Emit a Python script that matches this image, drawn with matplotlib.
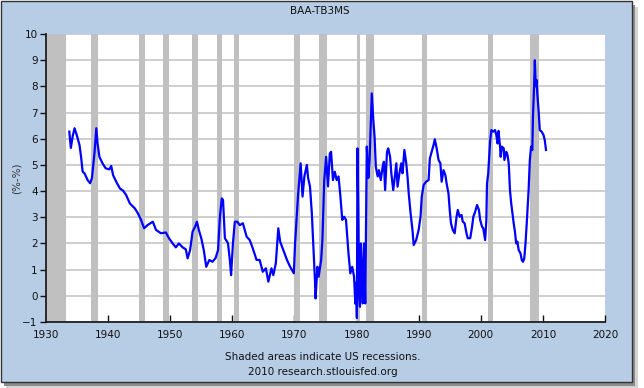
import matplotlib
matplotlib.use('Agg')
import matplotlib.pyplot as plt
from matplotlib.patches import Rectangle

# BAA minus TB3MS spread (percent points)
years = [
    1933.75, 1934.0, 1934.3, 1934.6, 1935.0, 1935.4, 1935.65, 1935.9, 1936.2, 1936.7,
    1937.1, 1937.4, 1937.8, 1938.1, 1938.3, 1938.6, 1939.1, 1939.6, 1940.2, 1940.5,
    1940.8, 1941.3, 1941.9, 1942.4, 1942.9, 1943.5, 1944.3, 1944.8, 1945.3, 1945.8,
    1946.4, 1947.2, 1947.7, 1948.5, 1949.3, 1949.8, 1950.4, 1950.9, 1951.4, 1952.0,
    1952.5, 1952.8, 1953.2, 1953.6, 1954.0, 1954.3, 1954.6, 1955.0, 1955.4, 1955.8,
    1956.3, 1956.8, 1957.3, 1957.7, 1958.0, 1958.3, 1958.5, 1958.8, 1959.3, 1959.6,
    1959.8, 1960.1, 1960.4, 1960.8, 1961.2, 1961.7, 1962.3, 1962.8, 1963.3, 1963.9,
    1964.4, 1964.9, 1965.4, 1965.8, 1966.3, 1966.6, 1967.0, 1967.4, 1967.7, 1968.0,
    1968.4, 1968.8, 1969.3, 1969.9, 1970.1, 1970.4, 1970.6, 1971.0, 1971.3, 1971.6,
    1972.0, 1972.2, 1972.5, 1972.8, 1973.0, 1973.3, 1973.4, 1973.7, 1973.9, 1974.3,
    1974.5, 1974.8, 1975.1, 1975.4, 1975.7, 1975.9, 1976.2, 1976.5, 1976.8, 1977.1,
    1977.4, 1977.7, 1978.0, 1978.3, 1978.7, 1979.0, 1979.3, 1979.6, 1979.8, 1979.95,
    1980.05, 1980.15, 1980.3, 1980.4, 1980.55, 1980.7, 1980.9, 1981.0, 1981.2, 1981.4,
    1981.65, 1981.9, 1982.1, 1982.45, 1982.7, 1982.9, 1983.1, 1983.4, 1983.6, 1983.9,
    1984.2, 1984.4, 1984.6, 1984.9, 1985.1, 1985.4, 1985.6, 1985.9, 1986.1, 1986.4,
    1986.6, 1986.9, 1987.2, 1987.4, 1987.7, 1988.0, 1988.2, 1988.4, 1988.7, 1989.0,
    1989.2, 1989.6, 1990.0, 1990.3, 1990.5, 1990.8, 1991.2, 1991.6, 1991.8, 1992.1,
    1992.4, 1992.6, 1992.9, 1993.2, 1993.5, 1993.7, 1994.0, 1994.3, 1994.5, 1994.8,
    1995.0, 1995.2, 1995.5, 1995.8, 1996.1, 1996.3, 1996.6, 1996.9, 1997.1, 1997.4,
    1997.7, 1997.9, 1998.3, 1998.6, 1998.8, 1999.1, 1999.4, 1999.7, 1999.9, 2000.2,
    2000.4, 2000.7, 2000.9, 2001.0, 2001.2, 2001.5, 2001.7, 2002.0, 2002.3, 2002.5,
    2002.7, 2002.85, 2003.1, 2003.2, 2003.4, 2003.7, 2003.8, 2004.1, 2004.3, 2004.5,
    2004.7, 2004.9, 2005.1, 2005.3, 2005.5, 2005.7, 2005.9, 2006.1, 2006.4, 2006.6,
    2006.8, 2007.0, 2007.2, 2007.4, 2007.7, 2007.9, 2008.1, 2008.3, 2008.4, 2008.6,
    2008.7, 2008.85, 2009.0, 2009.1, 2009.3, 2009.5, 2009.8, 2010.1, 2010.3, 2010.5,
]
spread = [
    6.27, 5.65, 6.1, 6.4, 6.1, 5.75, 5.3, 4.74, 4.68, 4.42,
    4.3, 4.5, 5.44, 6.4, 5.82, 5.31, 5.06, 4.87, 4.83, 4.96,
    4.61, 4.36, 4.1, 4.02, 3.85, 3.53, 3.34, 3.15, 2.9, 2.58,
    2.71, 2.83, 2.52, 2.39, 2.42, 2.2, 2.0, 1.85, 2.0, 1.85,
    1.78, 1.43, 1.75, 2.45, 2.64, 2.83, 2.52, 2.2, 1.75, 1.11,
    1.37, 1.3, 1.44, 1.75, 3.02, 3.72, 3.66, 2.2, 2.01, 1.37,
    0.79, 2.01, 2.83, 2.83, 2.7, 2.77, 2.26, 2.13, 1.81, 1.37,
    1.37, 0.92, 1.05, 0.54, 1.05, 0.79, 1.24, 2.58, 2.07, 1.88,
    1.62, 1.37, 1.11, 0.86, 2.0, 3.15, 3.91, 5.06, 3.79, 4.56,
    5.0, 4.5, 4.18, 3.15, 2.13, 0.6, -0.1, 1.11, 0.73, 1.37,
    2.13, 4.42, 5.31, 4.18, 5.44, 5.5, 4.42, 4.74, 4.42, 4.56,
    3.79, 2.9, 3.02, 2.9, 1.62, 0.86, 1.11, 0.73, -0.3, 0.5,
    -0.85, 5.63, 2.77, 0.0, -0.42, 2.0, 0.6, -0.29, 2.0, -0.29,
    5.7, 4.5, 5.2, 7.73, 6.7, 6.08, 4.93, 4.56, 4.8, 4.42,
    4.93, 5.12, 4.04, 5.5, 5.63, 5.31, 4.68, 4.04, 4.42, 5.06,
    4.17, 4.68, 5.06, 4.68, 5.57, 5.06, 4.56, 3.91, 3.15, 2.52,
    1.94, 2.13, 2.52, 3.02, 3.79, 4.23, 4.36, 4.42, 5.25, 5.5,
    5.76, 5.98, 5.63, 5.19, 5.06, 4.36, 4.8, 4.61, 4.29, 3.91,
    3.28, 2.77, 2.51, 2.39, 3.02, 3.28, 3.02, 3.09, 2.83, 2.77,
    2.39, 2.2, 2.2, 2.64, 3.02, 3.21, 3.47, 3.28, 2.9, 2.64,
    2.58, 2.13, 2.9, 4.29, 4.68, 5.89, 6.33, 6.27, 6.33, 6.14,
    5.82, 6.3, 5.7, 5.31, 5.7, 5.63, 5.19, 5.5, 5.38, 5.06,
    4.04, 3.53, 3.15, 2.77, 2.45, 2.0, 2.07, 1.75, 1.62, 1.37,
    1.3, 1.43, 2.0, 2.77, 4.04, 5.19, 5.7, 5.57, 6.84, 8.12,
    9.0, 8.0, 8.24, 7.73, 7.1, 6.33, 6.27, 6.14, 5.95, 5.57,
]

# US recessions (shaded)
rec_start = [1930.0, 1937.3, 1944.9, 1948.8, 1953.5, 1957.5, 1960.2,
             1969.85, 1973.9, 1980.0, 1981.5, 1990.5, 2001.1, 2007.85]
rec_end = [1933.2, 1938.3, 1945.9, 1949.8, 1954.5, 1958.4, 1961.1,
           1970.95, 1975.25, 1980.5, 1982.85, 1991.3, 2001.9, 2009.35]

W, H = 644, 388
fig = plt.figure(figsize=(W / 100, H / 100), dpi=100)
fig.patch.set_facecolor('white')

# background layer: drop shadow + light blue panel
bg = fig.add_axes([0, 0, 1, 1], zorder=0)
bg.set_xlim(0, W)
bg.set_ylim(H, 0)
bg.axis('off')
bg.add_patch(Rectangle((6, 7), 632, 381, facecolor='#d4d4d4', edgecolor='none'))
bg.add_patch(Rectangle((4, 5), 631, 381, facecolor='#8c8c8c', edgecolor='none'))
bg.add_patch(Rectangle((1, 1), 631, 381, facecolor='#b7cde6', edgecolor='#333333', lw=1))

ax = fig.add_axes([46 / W, (H - 322) / H, (605 - 46) / W, (322 - 34) / H], zorder=2)
ax.set_facecolor('white')
ax.set_axisbelow(True)

for s, e in zip(rec_start, rec_end):
    ax.axvspan(s, e, color='#c0c0c0', lw=0, zorder=1)

ax.plot(years, spread, color='#0000ff', lw=1.6, zorder=3)

ax.set_xlim(1930, 2020)
ax.set_ylim(-1, 10)
ax.set_xticks(range(1930, 2021, 10))
ax.set_yticks(range(-1, 11))
ax.yaxis.grid(True, color='#c6c6c6', lw=1.2)
ax.xaxis.grid(False)

for side in ['top', 'right']:
    ax.spines[side].set_visible(False)
for side in ['left', 'bottom']:
    ax.spines[side].set_color('#111111')
    ax.spines[side].set_linewidth(1.2)

ax.tick_params(axis='x', direction='in', length=5, width=1, pad=6,
               labelsize=7.5, colors='#111111')
ax.tick_params(axis='y', direction='out', length=4, width=1, pad=2,
               labelsize=7.5, colors='#111111')

fig.text(17 / W, 1 - 178 / H, '(%-%)', rotation=90, ha='center', va='center',
         fontsize=7.5, color='#333333', zorder=3)
fig.text(320 / W, 1 - 11 / H, 'BAA-TB3MS', ha='center', va='center',
         fontsize=7.5, color='#111111', zorder=3)
fig.text(323 / W, 1 - 357 / H, 'Shaded areas indicate US recessions.',
         ha='center', va='center', fontsize=7.5, color='#111111', zorder=3)
fig.text(323 / W, 1 - 372 / H, '2010 research.stlouisfed.org',
         ha='center', va='center', fontsize=7.5, color='#111111', zorder=3)

fig.savefig('out.png', dpi=100)
